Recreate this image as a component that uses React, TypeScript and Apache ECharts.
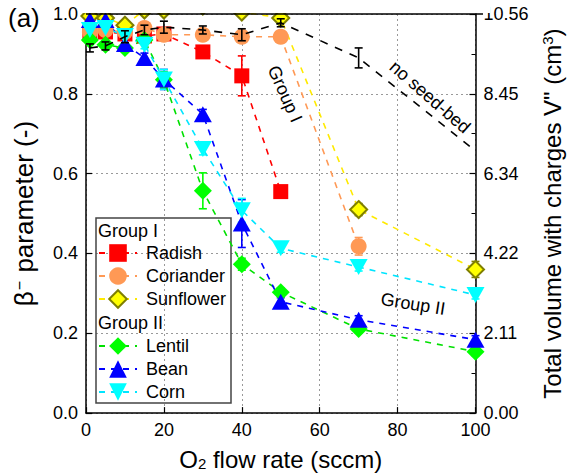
import React, { useEffect, useRef } from 'react';
import * as echarts from 'echarts';

const flowRates = [1, 5, 10, 15, 20, 30, 40, 50, 70, 100];

const radish = [0.95, 0.955, 0.95, 0.945, 0.95, 0.905, 0.845, 0.555, null, null];
const radishErr = [0.01, 0.01, 0.01, 0.01, 0.01, 0.015, 0.05, 0, null, null];
const coriander = [0.955, 0.96, 0.955, 0.965, 0.948, 0.948, 0.943, 0.943, 0.418, null];
const corianderErr = [0.01, 0.01, 0.01, 0.01, 0.01, 0.01, 0.01, 0, 0.022, null];
const sunflower = [0.995, 0.99, 0.972, 1.01, 1.01, 1.02, 1.005, 0.99, 0.51, 0.36];
const sunflowerErr = [0, 0, 0, 0, 0, 0, 0, 0, 0.015, 0.02];
const lentil = [0.935, 0.923, 0.915, 0.935, 0.835, 0.557, 0.373, 0.303, 0.211, 0.154];
const lentilErr = [0.01, 0.01, 0.01, 0.01, 0.02, 0.045, 0.015, 0.01, 0.01, 0.01];
const bean = [0.985, 0.985, 0.925, 0.89, 0.836, 0.749, 0.475, 0.279, 0.234, 0.184];
const beanErr = [0.01, 0.01, 0.01, 0.012, 0.025, 0.012, 0.06, 0.01, 0.01, 0.01];
const corn = [0.96, 0.965, 0.945, 0.923, 0.836, 0.662, 0.508, 0.413, 0.366, 0.296];
const cornErr = [0.01, 0.01, 0.01, 0.01, 0.025, 0.015, 0.03, 0.01, 0.01, 0.01];
const noSeedBed = [0.915, 0.92, 0.943, 0.96, 0.967, 0.96, 0.948, 0.978, 0.89, 0.657];
const noSeedBedErr = [0.01, 0.01, 0.015, 0.012, 0.015, 0.01, 0.015, 0.01, 0.025, 0];

const leftTicks = { min: 0, max: 1, interval: 0.2 };
const rightTicks = { min: 0, max: 10.56, interval: 2.112 };

const FONT = "'Liberation Sans', Arial, sans-serif";

type S = {
  name: string;
  values: (number | null)[];
  errs: (number | null)[];
  color: string;
  lineColor: string;
  symbol: string;
  size: number | number[];
  rotate?: number;
  border?: string;
};

const seriesDefs: S[] = [
  { name: 'Radish', values: radish, errs: radishErr, color: '#FF0000', lineColor: '#FF0000', symbol: 'rect', size: 15 },
  { name: 'Coriander', values: coriander, errs: corianderErr, color: '#FF9955', lineColor: '#FF9955', symbol: 'circle', size: 16 },
  { name: 'Sunflower', values: sunflower, errs: sunflowerErr, color: '#FFFF00', lineColor: '#FFEA00', symbol: 'diamond', size: 17, border: '#7F7F00' },
  { name: 'Lentil', values: lentil, errs: lentilErr, color: '#00FF00', lineColor: '#00E000', symbol: 'diamond', size: 18 },
  { name: 'Bean', values: bean, errs: beanErr, color: '#0000FF', lineColor: '#0000FF', symbol: 'triangle', size: [18, 16] },
  { name: 'Corn', values: corn, errs: cornErr, color: '#00FFFF', lineColor: '#00E5FF', symbol: 'triangle', size: [18, 16], rotate: 180 },
];

function errData(values: (number | null)[], errs: (number | null)[]) {
  const out: number[][] = [];
  values.forEach((v, i) => {
    const e = errs[i];
    if (v != null && e != null && e > 0) out.push([flowRates[i], v - e, v + e]);
  });
  return out;
}

function errSeries(name: string, color: string, data: number[][], z: number) {
  return {
    type: 'custom',
    name,
    z,
    data,
    encode: { x: 0, y: [1, 2] },
    renderItem: (params: any, api: any) => {
      const x = api.value(0);
      const lo = api.value(1);
      const hi = api.value(2);
      const p1 = api.coord([x, hi]);
      const p2 = api.coord([x, lo]);
      const hw = 4;
      const style = { stroke: color, lineWidth: 1.6, fill: null };
      return {
        type: 'group',
        children: [
          { type: 'line', shape: { x1: p1[0], y1: p1[1], x2: p2[0], y2: p2[1] }, style },
          { type: 'line', shape: { x1: p1[0] - hw, y1: p1[1], x2: p1[0] + hw, y2: p1[1] }, style },
          { type: 'line', shape: { x1: p2[0] - hw, y1: p2[1], x2: p2[0] + hw, y2: p2[1] }, style },
        ],
      };
    },
  };
}

export default function App() {
  const ref = useRef<HTMLDivElement>(null);
  useEffect(() => {
    if (!ref.current) return;
    const chart = echarts.init(ref.current, null, { renderer: 'svg' });
    const series: any[] = [];
    seriesDefs.forEach((d) => {
      series.push(errSeries('err-' + d.name, d.border || d.color, errData(d.values, d.errs), 2));
      series.push({
        type: 'line',
        name: d.name,
        data: flowRates.map((x, i) => [x, d.values[i]]),
        symbol: d.symbol,
        symbolSize: d.size,
        symbolRotate: d.rotate || 0,
        showSymbol: true,
        connectNulls: false,
        clip: false,
        z: 3,
        lineStyle: { color: d.lineColor, width: 1.6, type: [6, 6] },
        itemStyle: {
          color: d.color,
          borderColor: d.border || d.color,
          borderWidth: d.border ? 2 : 0,
        },
        emphasis: { disabled: true },
      });
    });
    series.push({
      type: 'line',
      name: 'no seed-bed',
      data: flowRates.map((x, i) => [x, noSeedBed[i]]),
      symbol: 'none',
      clip: false,
      z: 4,
      lineStyle: { color: '#000', width: 1.6, type: [8, 8] },
    });
    series.push(errSeries('err-noseed', '#000', errData(noSeedBed, noSeedBedErr), 6));

    const labelStyle = { color: '#000', fontSize: 18, fontFamily: FONT };
    const legendCommon = {
      orient: 'vertical',
      left: 98,
      padding: 0,
      itemWidth: 38,
      itemHeight: 22,
      itemGap: 1,
      textStyle: { color: '#000', fontSize: 18, fontFamily: FONT, lineHeight: 22, padding: [0, 0, 0, 4] },
      selectedMode: false,
    };

    chart.setOption({
      animation: false,
      backgroundColor: '#fff',
      grid: { left: 86, right: 89, top: 14, bottom: 60, containLabel: false },
      xAxis: {
        type: 'value',
        min: 0,
        max: 100,
        interval: 20,
        name: 'O{sub|2} flow rate (sccm)',
        nameLocation: 'middle',
        nameGap: 30,
        nameTextStyle: {
          color: '#000',
          fontSize: 24,
          fontFamily: FONT,
          rich: {
            sub: { fontSize: 15, fontFamily: FONT, verticalAlign: 'bottom', lineHeight: 12, padding: [12, 0, 0, 0] },
          },
        },
        axisLine: { lineStyle: { color: '#000', width: 1.5 } },
        axisTick: { inside: true, length: 6, lineStyle: { color: '#000', width: 1.2 } },
        axisLabel: { ...labelStyle, margin: 8 },
        splitLine: { show: true, lineStyle: { color: '#999', type: [2, 3], width: 1 } },
      },
      yAxis: [
        {
          type: 'value',
          ...leftTicks,
          position: 'left',
          name: '{b|β}{sup|−} parameter (-)',
          nameLocation: 'middle',
          nameRotate: 90,
          nameGap: 49,
          nameTextStyle: {
            color: '#000',
            fontSize: 26,
            fontFamily: FONT,
            rich: {
              b: { fontSize: 26, fontFamily: FONT },
              sup: { fontSize: 16, fontFamily: FONT, verticalAlign: 'top', padding: [0, 1, 10, 1] },
            },
          },
          axisLine: { show: true, lineStyle: { color: '#000', width: 1.5 } },
          axisTick: { show: true, inside: true, length: 6, lineStyle: { color: '#000', width: 1.2 } },
          axisLabel: { ...labelStyle, margin: 8, formatter: (v: number) => v.toFixed(1) },
          splitLine: { show: true, lineStyle: { color: '#999', type: [2, 3], width: 1 } },
        },
        {
          type: 'value',
          ...rightTicks,
          position: 'right',
          name: 'Total volume with charges V" (cm{sup|3})',
          nameLocation: 'middle',
          nameRotate: 90,
          nameGap: 64,
          nameTextStyle: {
            color: '#000',
            fontSize: 24,
            fontFamily: FONT,
            rich: {
              sup: { fontSize: 15, fontFamily: FONT, verticalAlign: 'top', padding: [0, 0, 10, 0] },
            },
          },
          axisLine: { show: true, lineStyle: { color: '#000', width: 1.5 } },
          axisTick: { show: true, inside: true, length: 6, lineStyle: { color: '#000', width: 1.2 } },
          minorTick: { show: true, splitNumber: 2, length: 4, lineStyle: { color: '#000', width: 1 } },
          axisLabel: { ...labelStyle, margin: 8, formatter: (v: number) => v.toFixed(2) },
          splitLine: { show: false },
        },
      ],
      legend: [
        { ...legendCommon, top: 242, data: ['Radish', 'Coriander', 'Sunflower'] },
        { ...legendCommon, top: 335, data: ['Lentil', 'Bean', 'Corn'] },
      ],
      graphic: [
        { type: 'rect', z: 100, shape: { x: 80, y: 0, width: 410, height: 13 }, style: { fill: '#fff' } },
        { type: 'line', z: 101, shape: { x1: 86, y1: 14, x2: 483, y2: 14 }, style: { stroke: '#000', lineWidth: 1.5 } },
        { type: 'rect', z: 3, shape: { x: 96, y: 218, width: 135, height: 185 }, style: { fill: 'rgba(255,255,255,0)', stroke: '#444', lineWidth: 1.5 } },
        { type: 'text', z: 110, x: 98, y: 231, style: { text: 'Group I', fill: '#000', fontSize: 18, fontFamily: FONT, verticalAlign: 'middle', align: 'left' } },
        { type: 'text', z: 110, x: 98, y: 323, style: { text: 'Group II', fill: '#000', fontSize: 18, fontFamily: FONT, verticalAlign: 'middle', align: 'left' } },
        { type: 'text', z: 110, x: 8, y: 18, style: { text: '(a)', fill: '#000', fontSize: 26, fontFamily: FONT, verticalAlign: 'middle', align: 'left' } },
        { type: 'text', z: 110, x: 285, y: 94, rotation: (-66 * Math.PI) / 180, style: { text: 'Group I', fill: '#000', fontSize: 18, fontFamily: FONT, verticalAlign: 'middle', align: 'center' } },
        { type: 'text', z: 110, x: 430, y: 97, rotation: (-41 * Math.PI) / 180, style: { text: 'no seed-bed', fill: '#000', fontSize: 18, fontFamily: FONT, verticalAlign: 'middle', align: 'center' } },
        { type: 'text', z: 110, x: 413, y: 304, rotation: (-9 * Math.PI) / 180, style: { text: 'Group II', fill: '#000', fontSize: 18, fontFamily: FONT, verticalAlign: 'middle', align: 'center' } },
      ],
      series,
    });
    return () => chart.dispose();
  }, []);
  return <div ref={ref} style={{ position: 'absolute', left: 0, top: 0, width: 572, height: 476 }} />;
}
